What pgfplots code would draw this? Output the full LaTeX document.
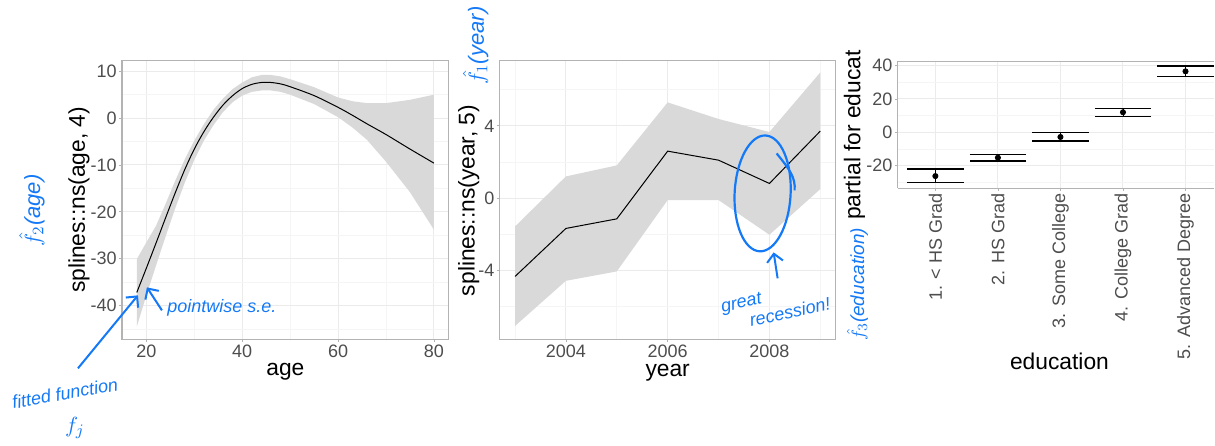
\documentclass[border=0pt]{standalone}
\usepackage{pgfplots}
\pgfplotsset{compat=1.18}
\usepackage{pgfplotstable}
\usetikzlibrary{arrows.meta}
\usepackage{fontspec}
\setmainfont{Liberation Sans}

\definecolor{bordergray}{HTML}{B3B3B3}
\definecolor{majgrid}{HTML}{EBEBEB}
\definecolor{mingrid}{HTML}{F5F5F5}
\definecolor{tickgray}{HTML}{4D4D4D}
\definecolor{ribbon}{HTML}{D9D9D9}
\definecolor{pen}{HTML}{1479F7}

% age term: fitted function
\pgfplotstableread{
age  fit
18  -37.2
20  -32.0
22  -26.7
24  -21.3
26  -16.0
28  -11.0
30  -6.6
32  -2.9
34   0.2
36   2.8
38   4.8
40   6.3
42   7.2
44   7.6
46   7.6
48   7.3
50   6.7
55   4.8
60   2.3
63   0.6
66  -1.2
70  -3.5
75  -6.6
80  -9.6
}\agefit

% age term: pointwise band (upper edge, then lower edge back)
\pgfplotstableread{
age  y
18  -30.1
20  -26.5
22  -23.0
24  -18.3
26  -13.4
28  -8.8
30  -4.8
32  -1.3
34   1.8
36   4.2
38   6.2
40   7.6
42   8.7
44   9.2
46   9.2
48   8.9
50   8.3
55   6.6
60   4.4
63   3.6
66   3.2
70   3.2
75   3.9
80   5.0
80  -23.8
75  -15.8
70  -9.3
66  -4.6
63  -2.0
60   0.2
55   3.0
50   5.0
48   5.6
46   5.9
44   5.9
42   5.6
40   4.8
38   3.4
36   1.3
34  -1.5
32  -4.8
30  -8.9
28  -13.8
26  -19.3
24  -25.3
22  -31.5
20  -37.8
18  -44.5
}\ageband

% year term
\pgfplotstableread{
year fit
2003 -4.34
2004 -1.68
2005 -1.15
2006  2.60
2007  2.10
2008  0.81
2009  3.71
}\yearfit

\pgfplotstableread{
year y
2003 -1.57
2004  1.20
2005  1.81
2006  5.30
2007  4.38
2008  3.66
2009  6.96
2009  0.50
2008 -2.03
2007 -0.11
2006 -0.11
2005 -4.06
2004 -4.58
2003 -7.08
}\yearband

% education term: level, fit, upper-fit, fit-lower
\pgfplotstableread{
lev fit    ep    em
1  -26.2   4.2   3.9
2  -15.2   1.8   2.0
3  -2.8    2.6   2.4
4   12.0   2.4   2.4
5   36.5   3.2   3.1
}\edutab

\pgfplotsset{
  ggpanel/.style={
    scale only axis, anchor=south west,
    axis line style={draw=bordergray, line width=0.6pt},
    tick align=outside, major tick length=1.5pt, minor tick length=0pt,
    xtick pos=bottom, ytick pos=left,
    major tick style={draw=bordergray, line width=0.4pt},
    every tick label/.append style={font=\fontsize{9}{10}\selectfont, text=tickgray, inner sep=1pt},
    /pgf/number format/assume math mode=true,
    /pgf/number format/1000 sep={},
    grid=both,
    major grid style={draw=majgrid, line width=0.5pt},
    minor grid style={draw=mingrid, line width=0.4pt},
  },
}

\newcommand{\ttl}{\fontsize{11.4}{13}\selectfont}
\newcommand{\hand}{\color{pen}\itshape\fontsize{9}{10}\selectfont}

\begin{document}
\begin{tikzpicture}[x=0.5pt, y=0.5pt]
\path (0,0) rectangle (1215,439);

% ---- panel 1: age
\begin{axis}[ggpanel, at={(61pt,50pt)}, width=163.5pt, height=139.5pt,
  xmin=14.9, xmax=83.1, ymin=-47.2, ymax=12.3,
  xtick={20,40,60,80}, minor xtick={30,50,70},
  ytick={-40,-30,-20,-10,0,10}, minor ytick={-45,-35,-25,-15,-5,5}]
\addplot[fill=ribbon, draw=none] table[x=age, y=y] {\ageband} -- cycle;
\addplot[black, line width=0.5pt, smooth] table[x=age, y=fit] {\agefit};
\end{axis}

% ---- panel 2: year
\begin{axis}[ggpanel, at={(250pt,50pt)}, width=168pt, height=139.5pt,
  xmin=2002.7, xmax=2009.3, ymin=-7.82, ymax=7.62,
  xtick={2004,2006,2008}, minor xtick={2003,2005,2007,2009},
  ytick={-4,0,4}, minor ytick={-6,-2,2,6}]
\addplot[fill=ribbon, draw=none] table[x=year, y=y] {\yearband} -- cycle;
\addplot[black, line width=0.5pt] table[x=year, y=fit] {\yearfit};
\end{axis}

% ---- panel 3: education (its right side runs off the picture)
\begin{axis}[ggpanel, at={(449.15pt,125.65pt)}, width=158.35pt, height=63.5pt,
  axis lines*=left, axis line style={-},
  xmin=0.4, xmax=5.462, ymin=-33.4, ymax=42.6,
  xtick={1,2,3,4,5},
  xticklabels={1. < HS Grad, 2. HS Grad, 3. Some College, 4. College Grad, 5. Advanced Degree},
  xticklabel style={rotate=90, anchor=east},
  ytick={-20,0,20,40}, minor ytick={-30,-10,10,30}]
\draw[bordergray, line width=0.6pt] (rel axis cs:0,1) -- (rel axis cs:1,1);
\addplot[black, mark=*, mark size=1.3pt, only marks,
  error bars/.cd, y dir=both, y explicit, error mark=|,
  error bar style={line width=0.4pt, black},
  error mark options={mark size=14.1pt, line width=0.7pt, black}]
  table[x=lev, y=fit, y error plus=ep, y error minus=em] {\edutab};
\end{axis}

% axis titles
\node[font=\ttl] at (285.5,67.5) {age};
\node[font=\ttl, rotate=90] at (79,239.5) {splines::ns(age, 4)};
\node[font=\ttl] at (668,67) {year};
\node[font=\ttl, rotate=90] at (469,239) {splines::ns(year, 5)};
\node[font=\ttl] at (1060,77.5) {education};
\node[font=\ttl, rotate=90, anchor=west, inner sep=0pt] at (855,219) {partial for educat};

% handwritten notes
\node[rotate=90, text=pen, font=\fontsize{11}{12}\selectfont\itshape] at (32,229) {$\hat{f}_2$(age)};
\node[font=\hand] at (222,131) {pointwise s.e.};
\draw[pen, line width=1pt, -{Straight Barb[length=4pt]}] (162,129) -- (147,152);
\node[font=\hand, rotate=10] at (65,46) {fitted function};
\node[text=pen, font=\fontsize{11}{12}\selectfont\itshape] at (75,11) {$f_j$};
\draw[pen, line width=1pt, -{Straight Barb[length=4pt]}] (78,71) -- (138,144);
\node[rotate=90, text=pen, font=\fontsize{11}{12}\selectfont\itshape] at (476,394) {$\hat{f}_1$(year)};
\draw[pen, line width=1.1pt, rotate around={-3:(763,246)}] (763,246) ellipse [x radius=28, y radius=58];
\draw[pen, line width=1.1pt] (777,286) .. controls (790,270) and (796,262) .. (795,249);
\draw[pen, line width=1pt, -{Straight Barb[length=4pt]}] (778,161) -- (774,187);
\node[font=\hand, rotate=12, inner sep=0pt, align=left] at (776,134) {great\\\hspace{1.4em}recession!};
\node[rotate=90, text=pen, font=\fontsize{9.5}{11}\selectfont\itshape] at (858,155) {$\hat{f}_3$(education)};
\end{tikzpicture}
\end{document}
